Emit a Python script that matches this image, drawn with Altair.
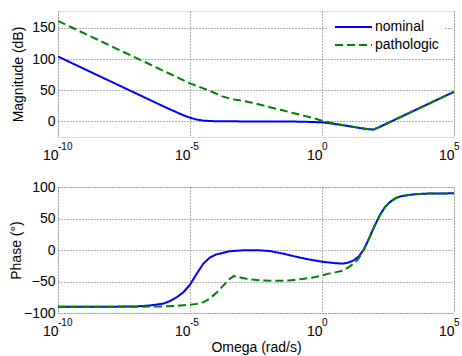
import altair as alt
import pandas as pd

# Frequency points are given as log10(omega); values read per series.
mag_nom_exp = [-10, -9, -8, -7, -6, -5.5, -5.25, -5, -4.75, -4.5, -4.25, -4, -3, -2, -1, -0.5,
               0, 0.5, 1, 1.5, 1.75, 1.95, 2.15, 2.5, 3, 4, 5]
mag_nom = [104, 84, 64, 44, 24, 14.5, 9.8, 6, 3, 1.3, 0.6, 0.3, 0, 0, -0.3, -0.8,
           -1.5, -4.2, -7.5, -11, -12.5, -13, -9.5, -2.5, 7.5, 27.5, 47.5]

mag_pat_exp = [-10, -9, -8, -7, -6, -5, -4.5, -4.17, -3.8, -3.4, -3, -2.65, -2.3, -1.9, -1.5,
               -1.1, -0.7, -0.38, 0, 0.5, 1, 1.5, 1.75, 1.95, 2.15, 2.5, 3, 4, 5]
mag_pat = [161, 141, 121, 101, 81, 61, 53, 47.5, 40.5, 35.5, 33, 30, 26.3, 22, 17.8,
           13.5, 9.3, 6, 1, -3.5, -7.5, -11, -12.5, -13, -9.5, -2.5, 7.5, 27.5, 47.5]

ph_nom_exp = [-10, -8, -7, -6.5, -6, -5.75, -5.5, -5.25, -5, -4.75, -4.5, -4.25, -4, -3.5, -3,
              -2.5, -2, -1.5, -1, -0.5, 0, 0.5, 0.8, 1, 1.2, 1.4, 1.6, 1.8, 2, 2.2, 2.4,
              2.6, 2.8, 3, 3.5, 4, 5]
ph_nom = [-90, -90, -89.5, -88, -85, -81, -75, -67, -55, -38, -22, -12, -7, -2, -0.5,
          -0.3, -1.5, -5.5, -10.5, -15, -18.5, -21, -21.5, -20, -16.5, -10, 2, 20, 39, 56, 69,
          77, 82.5, 85.5, 88.5, 89.5, 90]

ph_pat_exp = [-10, -7, -6, -5.5, -5, -4.75, -4.5, -4.25, -4, -3.75, -3.5, -3.35, -3.1, -2.75,
              -2.25, -1.75, -1.25, -0.75, -0.25, 0, 0.25, 0.5, 0.76, 1, 1.26, 1.4, 1.6, 1.8,
              2, 2.2, 2.4, 2.6, 2.8, 3, 3.5, 4, 5]
ph_pat = [-90, -90, -89.5, -88.5, -87, -85.5, -83, -77, -68, -57, -46, -41.5, -43.5, -46.5,
          -48.5, -49, -48.5, -46, -43, -40.5, -37.5, -35.5, -33, -27.5, -20, -12.5, 2, 20,
          39, 56, 69, 77, 82.5, 85.5, 88.5, 89.5, 90]

series_names = ["nominal", "pathologic"]
series_colors = ["#0000ff", "#008000"]
series_dashes = [[1, 0], [8, 4]]

# Decade ticks: mantissa "10" on the axis, exponent drawn as a raised text
x_tick_values = [1e-10, 1e-5, 1, 1e5]
x_tick_exponents = ["-10", "-5", "0", "5"]
mag_ticks = [0, 50, 100, 150]
phase_ticks = [-100, -50, 0, 50, 100]

FONT = "Liberation Sans"
W, H = 396, 126


def frame(exps, vals, name):
    return pd.DataFrame({"omega": [10.0 ** e for e in exps], "value": vals, "series": name})


mag_df = pd.concat([frame(mag_nom_exp, mag_nom, "nominal"),
                    frame(mag_pat_exp, mag_pat, "pathologic")], ignore_index=True)
ph_df = pd.concat([frame(ph_nom_exp, ph_nom, "nominal"),
                   frame(ph_pat_exp, ph_pat, "pathologic")], ignore_index=True)
exp_df = pd.DataFrame({"omega": x_tick_values, "exponent": x_tick_exponents})

grid_style = dict(grid=True, gridColor="#666666", gridDash=[1, 2], gridWidth=1,
                  ticks=False, domain=False, labelFont=FONT, labelFontSize=14,
                  labelColor="#000000", titleFont=FONT, titleFontSize=14,
                  titleColor="#000000", titleFontWeight="normal")

x_scale = alt.Scale(type="log", domain=[1e-10, 1e5], nice=False)


def panel(df, y_title, y_domain, y_ticks, title_x, x_title, legend):
    x_axis_kwargs = dict(values=x_tick_values, labelExpr="'10'", labelAlign="right",
                         labelBaseline="alphabetic", labelPadding=22, labelFlush=False,
                         **grid_style)
    if x_title:
        x_axis_kwargs.update(title=x_title, titlePadding=2)
    else:
        x_axis_kwargs.update(title=None)
    x = alt.X("omega:Q", scale=x_scale, axis=alt.Axis(**x_axis_kwargs))
    y = alt.Y("value:Q",
              scale=alt.Scale(domain=y_domain, nice=False, zero=False),
              axis=alt.Axis(values=y_ticks, title=y_title, labelPadding=3,
                            titleX=title_x, titleY=H / 2, **grid_style))
    if legend:
        leg = alt.Legend(orient="none", legendX=270, legendY=3, title=None,
                         symbolType="stroke", symbolSize=1369, symbolStrokeWidth=2,
                         clipHeight=14, labelFont=FONT, labelFontSize=14,
                         labelColor="#000000", labelOffset=2, fillColor="#ffffff",
                         padding=6, rowPadding=4)
    else:
        leg = None
    color = alt.Color("series:N", scale=alt.Scale(domain=series_names, range=series_colors),
                      legend=leg)
    dash = alt.StrokeDash("series:N", scale=alt.Scale(domain=series_names, range=series_dashes),
                          legend=leg)
    layers = [
        alt.Chart(df).transform_filter(alt.datum.series == name)
        .mark_line(strokeWidth=2, clip=True)
        .encode(x=x, y=y, color=color, strokeDash=dash)
        for name in series_names
    ]
    exponents = alt.Chart(exp_df).mark_text(
        font=FONT, fontSize=10, align="left", baseline="alphabetic", color="#000000"
    ).encode(x=alt.X("omega:Q", scale=x_scale), y=alt.value(H + 13), text="exponent:N")
    return alt.layer(*layers, exponents).properties(width=W, height=H)


top = panel(mag_df, "Magnitude (dB)", [-25, 177], mag_ticks, -33, None, True)
bottom = panel(ph_df, "Phase (°)", [-100, 100], phase_ticks, -35, "Omega (rad/s)", False)

chart = (
    alt.vconcat(top, bottom, spacing=16)
    .resolve_legend(color="independent", strokeDash="independent")
    .resolve_scale(color="independent", strokeDash="independent")
    .properties(padding={"left": 8, "top": 10, "right": 0, "bottom": 0})
    .configure_view(stroke="#555555", strokeWidth=1.2)
    .configure(background="#ffffff")
)

chart.save("out.html", embed_options={"renderer": "svg", "actions": False})
